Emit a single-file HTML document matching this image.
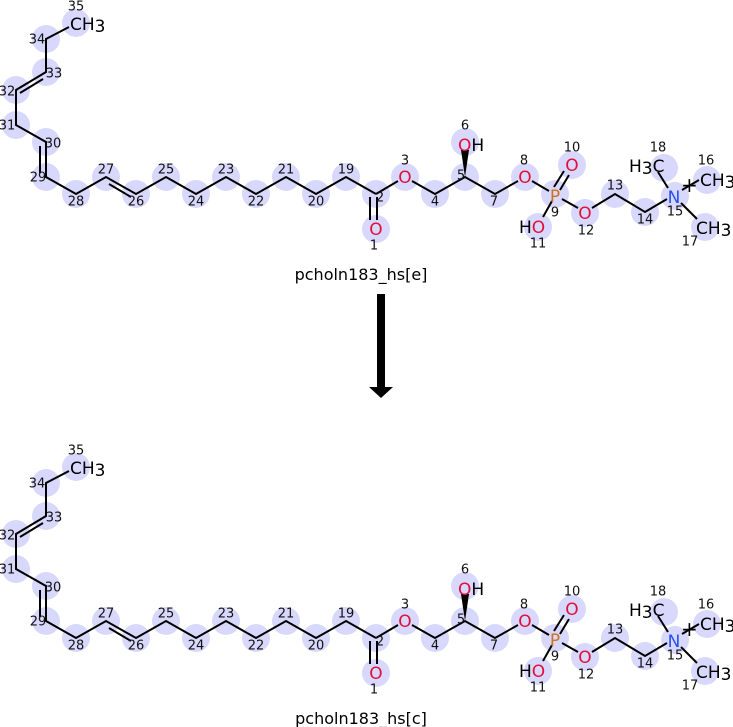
<!DOCTYPE html>
<html><head><meta charset="utf-8"><style>
html,body{margin:0;padding:0;background:#fff;width:733px;height:727px;overflow:hidden}
svg text{font-family:"DejaVu Sans","Liberation Sans",sans-serif}
.n{font-size:13px;fill:#111}
.a{font-size:17px}
.O{fill:#e0103c}.P{fill:#d0701c}.N{fill:#2850f0}.C{fill:#000}
</style></head><body>
<svg width="733" height="727" viewBox="0 0 733 727" xmlns="http://www.w3.org/2000/svg">
<defs>
<g id="mol">
<g fill="#d8d8fc">
<circle cx="76" cy="23" r="14"/><circle cx="46" cy="39" r="14"/><circle cx="46" cy="72" r="14"/><circle cx="16" cy="90" r="14"/><circle cx="16" cy="125" r="14"/><circle cx="46" cy="142" r="14"/><circle cx="46" cy="177" r="14"/><circle cx="76" cy="194" r="14"/><circle cx="106" cy="177" r="14"/><circle cx="136" cy="194" r="14"/><circle cx="166" cy="177" r="14"/><circle cx="196" cy="194" r="14"/><circle cx="226" cy="177" r="14"/><circle cx="256" cy="194" r="14"/><circle cx="286" cy="177" r="14"/><circle cx="316" cy="194" r="14"/><circle cx="346" cy="177" r="14"/><circle cx="376" cy="194" r="14"/><circle cx="376" cy="229" r="14"/><circle cx="405" cy="177" r="14"/><circle cx="435" cy="194" r="14"/><circle cx="465" cy="177" r="14"/><circle cx="465" cy="142" r="14"/><circle cx="495" cy="194" r="14"/><circle cx="525" cy="177" r="14"/><circle cx="555" cy="194" r="14"/><circle cx="572" cy="165" r="14"/><circle cx="538" cy="227" r="14"/><circle cx="585" cy="213" r="14"/><circle cx="615" cy="194" r="14"/><circle cx="645" cy="212" r="14"/><circle cx="675" cy="196" r="14"/><circle cx="707" cy="180" r="14"/><circle cx="705" cy="227" r="14"/><circle cx="664" cy="168" r="14"/>
</g>
<g stroke="#000" stroke-width="2" fill="none">
<path d="M69 27 L46 39 L46 72 L16 90 L16 125 L46 142 L46 177 L76 194 L106 177 L136 194 L166 177 L196 194 L226 177 L256 194 L286 177 L316 194 L346 177 L376 194"/>
<path d="M43 79 L20 93"/>
<path d="M40 146 L40 173"/>
<path d="M109 184 L131 197"/>
<path d="M376 194 L398 181 M412 181 L435 194 L465 177 L495 194 L518 181 M532 181 L549 191"/>
<path d="M377 197 L377 220 M370 197 L370 220"/>
<path d="M554 187 L564 171 M560 190 L569 175"/>
<path d="M552 201 L543 217 M562 199 L578 208 M592 208 L615 194 L645 212 L667 199"/>
<path d="M682 190 L699 180 M681 203 L697 219 M658 172 L668 188"/>
</g>
<polygon points="465,177 461,150 469,150" fill="#000"/>
<g class="a">
<text x="70" y="30" class="C">CH<tspan dy="2">3</tspan></text>
<text x="376" y="235" text-anchor="middle" class="O">O</text>
<text x="405" y="183" text-anchor="middle" class="O">O</text>
<text x="458" y="151" class="O">O<tspan class="C">H</tspan></text>
<text x="525" y="183" text-anchor="middle" class="O">O</text>
<text x="555" y="202" text-anchor="middle" class="P">P</text>
<text x="572" y="171" text-anchor="middle" class="O">O</text>
<text x="519" y="233" class="C">H<tspan class="O">O</tspan></text>
<text x="585" y="219" text-anchor="middle" class="O">O</text>
<text x="674" y="203" text-anchor="middle" class="N">N</text>
<text x="700" y="186" class="C">CH<tspan dy="2">3</tspan></text>
<text x="696" y="234" class="C">CH<tspan dy="2">3</tspan></text>
<text x="629" y="172" class="C">H<tspan dy="2">3</tspan><tspan dy="-2">C</tspan></text>
<text x="681" y="192" class="C" font-size="20">+</text>
</g>
<g class="n" text-anchor="middle" dominant-baseline="central">
<text x="76" y="7">35</text><text x="37" y="40">34</text><text x="54" y="74">33</text><text x="7" y="92">32</text><text x="7" y="126">31</text><text x="53" y="144">30</text><text x="38" y="178">29</text><text x="76" y="202">28</text><text x="106" y="170">27</text><text x="136" y="202">26</text><text x="166" y="170">25</text><text x="196" y="202">24</text><text x="226" y="170">23</text><text x="256" y="202">22</text><text x="286" y="170">21</text><text x="316" y="202">20</text><text x="346" y="170">19</text><text x="380" y="198">2</text><text x="374" y="246">1</text><text x="405" y="161">3</text><text x="435" y="202">4</text><text x="461" y="176">5</text><text x="465" y="126">6</text><text x="494" y="202">7</text><text x="524" y="161">8</text><text x="555" y="213">9</text><text x="572" y="148">10</text><text x="538" y="244">11</text><text x="586" y="231">12</text><text x="615" y="186">13</text><text x="645" y="220">14</text><text x="675" y="212">15</text><text x="706" y="161">16</text><text x="690" y="242">17</text><text x="658" y="148">18</text>
</g>
</g>
</defs>
<use href="#mol"/>
<text x="361" y="280" text-anchor="middle" font-size="16">pcholn183_hs[e]</text>
<rect x="377" y="294" width="8" height="94" fill="#000"/>
<polygon points="369,387 393,387 381,398" fill="#000"/>
<use href="#mol" transform="translate(0,444)"/>
<text x="361" y="724" text-anchor="middle" font-size="16">pcholn183_hs[c]</text>
</svg>
</body></html>
